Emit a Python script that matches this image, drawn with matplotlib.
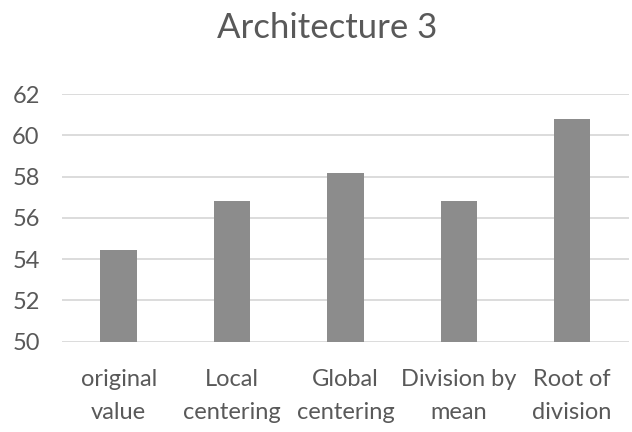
import matplotlib.pyplot as plt

categories = ['original\nvalue', 'Local\ncentering', 'Global\ncentering',
              'Division by\nmean', 'Root of\ndivision']
values = [54.45, 56.8, 58.2, 56.8, 60.8]
y_ticks = [50, 52, 54, 56, 58, 60, 62]

plt.rcParams['font.family'] = ['Lato', 'DejaVu Sans']
text_color = '#595959'

fig = plt.figure(figsize=(6.32, 4.32), dpi=100)
ax = fig.add_axes([0.098, 0.209, 0.897, 0.573])

ax.bar(range(len(values)), values, width=0.32, color='#8c8c8c', zorder=3)
ax.set_ylim(50, 62)
ax.set_xlim(-0.5, len(values) - 0.5)
ax.set_yticks(y_ticks)
ax.set_xticks(range(len(categories)))
ax.set_xticklabels(categories, fontsize=17, color=text_color, linespacing=1.65)
ax.tick_params(axis='y', labelsize=17, labelcolor=text_color, length=0, pad=16)
ax.tick_params(axis='x', length=0, pad=20)
ax.grid(axis='y', color='#d9d9d9', linewidth=1.3, zorder=0)
for s in ax.spines.values():
    s.set_visible(False)

fig.text(0.517, 0.935, 'Architecture 3', ha='center', va='center',
         fontsize=25, color=text_color)

fig.savefig('out.png', dpi=100)
